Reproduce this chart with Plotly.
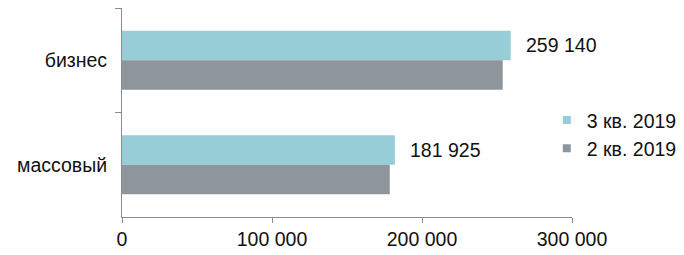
import plotly.graph_objects as go

categories = ["бизнес", "массовый"]
series_names = ["3 кв. 2019", "2 кв. 2019"]
q3_values = [259140, 181925]
q2_values = [253800, 178500]
x_ticks = [0, 100000, 200000, 300000]

colors = ["#97CDD6", "#8E959B"]
axis_col = "#8C8C8C"
font_family = "Arial, Liberation Sans, sans-serif"
fs = 19.5

fig = go.Figure()
for name, vals, col in zip(series_names, [q3_values, q2_values], colors):
    fig.add_trace(go.Bar(y=categories, x=vals, orientation="h", name=name,
                         marker=dict(color=col, line=dict(width=0)),
                         showlegend=False, hoverinfo="x+name"))
for name, col in zip(series_names, colors):
    fig.add_trace(go.Scatter(x=[None], y=[None], mode="markers", name=name,
                             marker=dict(symbol="square", size=8, color=col)))

for c, v in zip(categories, q3_values):
    fig.add_annotation(x=v, y=c, text=f"{v:,}".replace(",", " "),
                       xanchor="left", yanchor="middle", xshift=13, yshift=15,
                       showarrow=False, font=dict(size=fs, color="#111111"))

fig.update_layout(
    width=684, height=255,
    margin=dict(l=122, r=112, t=8, b=38, autoexpand=False),
    paper_bgcolor="white", plot_bgcolor="white",
    font=dict(family=font_family, size=fs, color="#111111"),
    barmode="group", bargap=0.436, bargroupgap=0,
    separators=", ",
    showlegend=True,
    legend=dict(x=0.944, xanchor="left", y=0.396, yanchor="middle",
                bgcolor="rgba(0,0,0,0)", font=dict(size=fs),
                itemwidth=30, tracegroupgap=0),
)
fig.update_xaxes(range=[0, 300000], tickvals=x_ticks, tickformat=",d",
                 showgrid=False, zeroline=False, showline=True, linecolor=axis_col,
                 ticks="outside", ticklen=5, tickcolor=axis_col, linewidth=1)
fig.update_yaxes(categoryorder="array", categoryarray=categories, autorange="reversed",
                 showgrid=False, zeroline=False, showline=True, linecolor=axis_col,
                 ticks="outside", ticklen=6, tickcolor=axis_col, tickson="boundaries",
                 ticklabelstandoff=10, linewidth=1)

fig.write_html("out.html")
